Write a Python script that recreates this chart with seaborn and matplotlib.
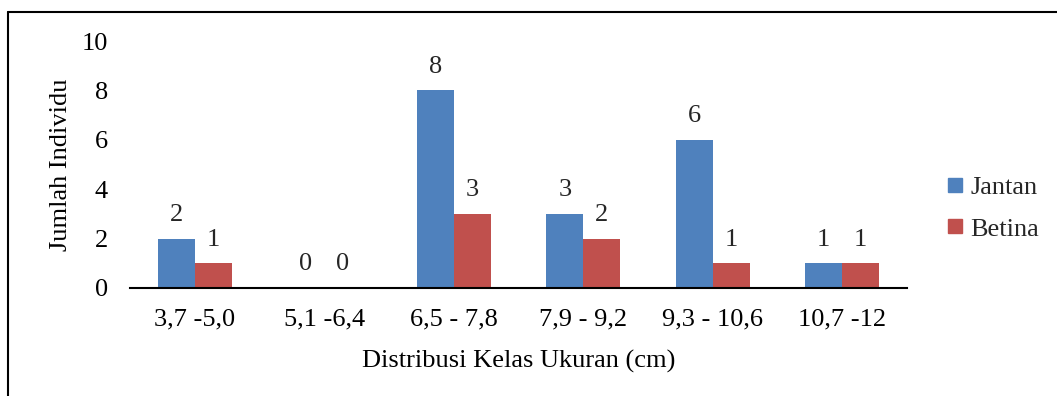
import matplotlib
matplotlib.use("Agg")
import matplotlib.pyplot as plt
import seaborn as sns
import pandas as pd
from matplotlib.lines import Line2D

categories = ["3,7 -5,0", "5,1 -6,4", "6,5 - 7,8", "7,9 - 9,2", "9,3 - 10,6", "10,7 -12"]
jantan = [2, 0, 8, 3, 6, 1]
betina = [1, 0, 3, 2, 1, 1]
series_names = ["Jantan", "Betina"]
colors = ["#4F81BD", "#C0504D"]

df = pd.DataFrame({
    "kelas": categories * 2,
    "jumlah": jantan + betina,
    "jenis": [series_names[0]] * len(categories) + [series_names[1]] * len(categories),
})

sns.set_theme(style="white")
plt.rcParams["font.family"] = ["Liberation Serif", "DejaVu Serif"]
FS = 19

fig = plt.figure(figsize=(10.57, 3.96), dpi=100)
ax = fig.add_axes([130 / 1057, (396 - 288) / 396, (907 - 130) / 1057, (288 - 41) / 396])

sns.barplot(data=df, x="kelas", y="jumlah", hue="jenis", order=categories,
            hue_order=series_names, palette=colors, width=0.57, gap=0,
            saturation=1, ax=ax, legend=False, linewidth=0)

for cont in ax.containers:
    ax.bar_label(cont, fmt="%d", padding=9, fontsize=FS)

ax.set_ylim(0, 10)
ax.set_xlim(-0.5, len(categories) - 0.5)
ax.set_yticks(range(0, 11, 2))
ax.tick_params(axis="both", length=0, labelsize=FS, colors="black")
ax.tick_params(axis="y", pad=16)
ax.tick_params(axis="x", pad=15)
for s in ["top", "right", "left"]:
    ax.spines[s].set_visible(False)
ax.spines["bottom"].set_color("black")
ax.spines["bottom"].set_linewidth(1.5)
ax.set_xlabel("Distribusi Kelas Ukuran (cm)", fontsize=FS, color="black", labelpad=14)
ax.set_ylabel("Jumlah Individu", fontsize=FS, color="black", labelpad=7)

handles = [Line2D([], [], marker="s", linestyle="none", markersize=9.5,
                  markerfacecolor=c, markeredgecolor=c) for c in colors]
fig.legend(handles, series_names, loc="center left", bbox_to_anchor=(923 / 1057, 1 - 208 / 396),
           frameon=False, fontsize=FS, handlelength=0.6, handletextpad=0.3, labelspacing=0.7)

# outer frame (top and left edges)
fig.add_artist(Line2D([8 / 1057, 1.0], [1 - 12 / 396, 1 - 12 / 396], transform=fig.transFigure,
                      color="black", linewidth=1.5))
fig.add_artist(Line2D([8 / 1057, 8 / 1057], [0, 1 - 12 / 396], transform=fig.transFigure,
                      color="black", linewidth=1.5))

fig.savefig("out.png", dpi=100, facecolor="white")
